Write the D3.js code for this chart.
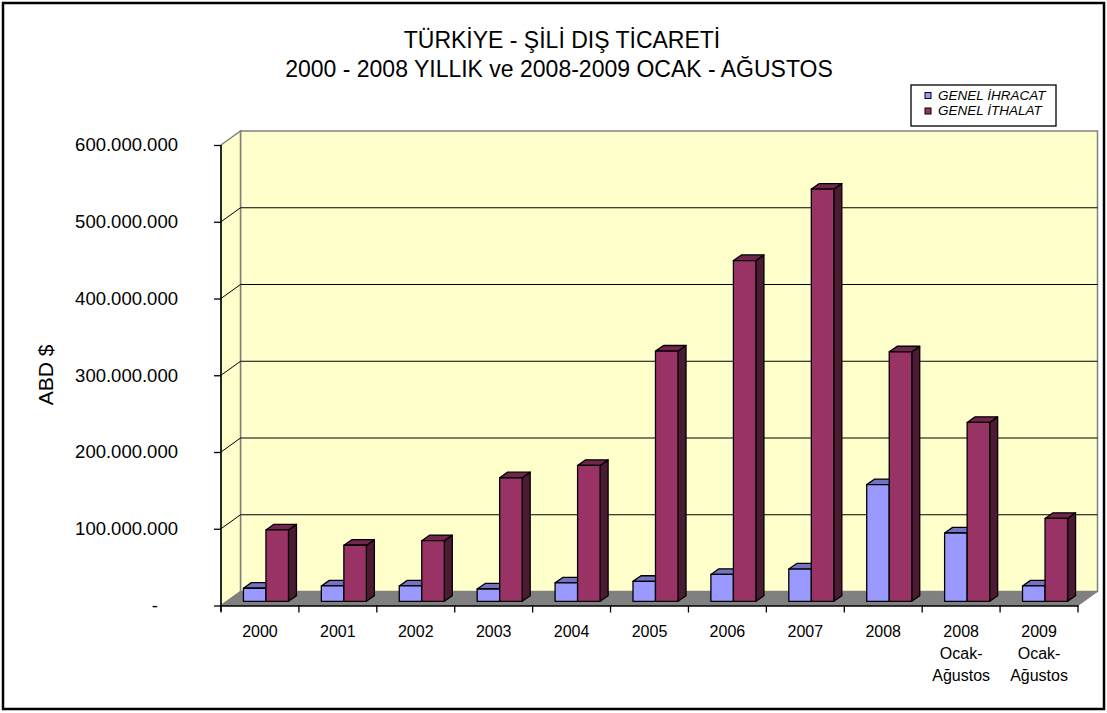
<!DOCTYPE html>
<html>
<head>
<meta charset="utf-8">
<script src="https://cdn.jsdelivr.net/npm/d3@7"></script>
<style>
  body { margin: 0; background: #fff; }
  svg { display: block; font-family: "Liberation Sans", Arial, sans-serif; }
</style>
</head>
<body>
<div id="chart"></div>
<script>
// data (USD)
const categories = ['2000', '2001', '2002', '2003', '2004', '2005', '2006', '2007', '2008', '2008\nOcak-\nAğustos', '2009\nOcak-\nAğustos'];
const ihracat = [17e6, 20e6, 20e6, 16e6, 24e6, 26e6, 35e6, 42e6, 152e6, 89e6, 20e6];
const ithalat = [93e6, 73e6, 79e6, 161e6, 177e6, 326e6, 444e6, 537e6, 325e6, 233e6, 108e6];
const yTicks = [0, 100e6, 200e6, 300e6, 400e6, 500e6, 600e6];
const seriesNames = ['GENEL İHRACAT', 'GENEL İTHALAT'];

const width = 1107;
const height = 713;
const plot = { left: 221, right: 1078, bottom: 605.5, top: 145 };
const depth = { dx: 19.5, dy: -14 };   // back wall offset
const barDepth = { dx: 8, dy: -5.6 };
const barShift = { dx: 6, dy: -4.2 };

const colors = {
  ihracat: { front: '#9999ff', top: '#7373bf', side: '#4d4d80' },
  ithalat: { front: '#993366', top: '#73264d', side: '#4d1a33' }
};

const svg = d3.select('#chart')
  .append('svg')
  .attr('width', width)
  .attr('height', height);

// outer frame
svg.append('rect')
  .attr('x', 3).attr('y', 3)
  .attr('width', 1101).attr('height', 706)
  .attr('fill', '#fff')
  .attr('stroke', '#000')
  .attr('stroke-width', 2.5);

const x0 = d3.scaleBand()
  .domain(categories)
  .range([plot.left, plot.right]);

const x1 = d3.scaleBand()
  .domain(['ihracat', 'ithalat'])
  .range([0, x0.bandwidth()])
  .paddingOuter(0.73);

const y = d3.scaleLinear()
  .domain([0, 600e6])
  .range([plot.bottom, plot.top]);

const pts = (arr) => arr.map((p) => p.join(',')).join(' ');

// back wall
svg.append('rect')
  .attr('x', plot.left + depth.dx)
  .attr('y', plot.top + depth.dy)
  .attr('width', plot.right - plot.left)
  .attr('height', plot.bottom - plot.top)
  .attr('fill', '#ffffcc')
  .attr('stroke', '#808080')
  .attr('stroke-width', 1.5);

// left wall
svg.append('polygon')
  .attr('points', pts([
    [plot.left, plot.top],
    [plot.left + depth.dx, plot.top + depth.dy],
    [plot.left + depth.dx, plot.bottom + depth.dy],
    [plot.left, plot.bottom]
  ]))
  .attr('fill', '#ffffcc')
  .attr('stroke', '#808080')
  .attr('stroke-width', 1.5);

// gridlines (back wall + left wall)
const grid = svg.append('g').attr('class', 'grid');
yTicks.filter((t) => t > 0 && t < 600e6).forEach((t) => {
  grid.append('line')
    .attr('x1', plot.left + depth.dx).attr('x2', plot.right + depth.dx)
    .attr('y1', y(t) + depth.dy).attr('y2', y(t) + depth.dy)
    .attr('stroke', '#000').attr('stroke-width', 1);
  grid.append('line')
    .attr('x1', plot.left).attr('x2', plot.left + depth.dx)
    .attr('y1', y(t)).attr('y2', y(t) + depth.dy)
    .attr('stroke', '#000').attr('stroke-width', 1);
});

// floor
svg.append('polygon')
  .attr('points', pts([
    [plot.left, plot.bottom],
    [plot.right, plot.bottom],
    [plot.right + depth.dx, plot.bottom + depth.dy],
    [plot.left + depth.dx, plot.bottom + depth.dy]
  ]))
  .attr('fill', '#808080')
  .attr('stroke', '#808080')
  .attr('stroke-width', 1);

// bars
const bars = svg.append('g').attr('class', 'bars');
categories.forEach((cat, i) => {
  [['ihracat', ihracat[i]], ['ithalat', ithalat[i]]].forEach(([key, v]) => {
    const c = colors[key];
    const bx = x0(cat) + x1(key) + barShift.dx;
    const bw = x1.bandwidth();
    const yb = y(0) + barShift.dy;
    const yt = y(v) + barShift.dy;
    const g = bars.append('g')
      .attr('stroke', '#000')
      .attr('stroke-width', 1.3)
      .attr('stroke-linejoin', 'round');
    g.append('polygon')
      .attr('points', pts([
        [bx + bw, yt], [bx + bw + barDepth.dx, yt + barDepth.dy],
        [bx + bw + barDepth.dx, yb + barDepth.dy], [bx + bw, yb]
      ]))
      .attr('fill', c.side);
    g.append('polygon')
      .attr('points', pts([
        [bx, yt], [bx + bw, yt],
        [bx + bw + barDepth.dx, yt + barDepth.dy], [bx + barDepth.dx, yt + barDepth.dy]
      ]))
      .attr('fill', c.top);
    g.append('rect')
      .attr('x', bx).attr('y', yt)
      .attr('width', bw).attr('height', yb - yt)
      .attr('fill', c.front);
  });
});

// y axis
const yAxis = d3.axisLeft(y)
  .tickValues(yTicks)
  .tickSize(7)
  .tickPadding(36)
  .tickFormat((d) => d === 0 ? '-' : d3.format(',')(d).replace(/,/g, '.'));

const yg = svg.append('g')
  .attr('transform', 'translate(' + plot.left + ',0)')
  .call(yAxis);
yg.select('.domain')
  .attr('d', 'M0,' + plot.top + 'V' + (plot.bottom + 6))
  .attr('stroke', '#000').attr('stroke-width', 1.5);
yg.selectAll('.tick line').attr('stroke', '#000').attr('stroke-width', 1.3);
yg.selectAll('.tick text')
  .attr('x', -43)
  .attr('font-size', 18.5)
  .attr('font-family', '"Liberation Sans", Arial, sans-serif')
  .attr('fill', '#000');
yg.selectAll('.tick')
  .filter((d) => d === 0)
  .select('text')
  .attr('x', -63);

// x axis
const xAxis = d3.axisBottom(x0)
  .tickSize(0)
  .tickFormat('');
const xg = svg.append('g')
  .attr('transform', 'translate(0,' + plot.bottom + ')')
  .call(xAxis);
xg.select('.domain').attr('stroke', '#000').attr('stroke-width', 1.5);
const xTickPos = categories.map((c) => x0(c)).concat([plot.right]);
xg.selectAll('.sep')
  .data(xTickPos)
  .enter()
  .append('line')
  .attr('x1', (d) => d).attr('x2', (d) => d)
  .attr('y1', 0).attr('y2', 7)
  .attr('stroke', '#000').attr('stroke-width', 1.3);

const xLabels = svg.append('g')
  .attr('font-size', 16)
  .attr('text-anchor', 'middle');
categories.forEach((cat) => {
  const t = xLabels.append('text')
    .attr('x', x0(cat) + x0.bandwidth() / 2)
    .attr('y', 637);
  cat.split('\n').forEach((line, k) => {
    t.append('tspan')
      .attr('x', x0(cat) + x0.bandwidth() / 2)
      .attr('dy', k === 0 ? 0 : 22)
      .text(line);
  });
});

// axis title
svg.append('text')
  .attr('transform', 'translate(53,375) rotate(-90)')
  .attr('text-anchor', 'middle')
  .attr('font-size', 21)
  .text('ABD $');

// title
const title = svg.append('text')
  .attr('text-anchor', 'middle')
  .attr('font-size', 23);
title.append('tspan').attr('x', 562).attr('y', 48).text('TÜRKİYE - ŞİLİ DIŞ TİCARETİ');
title.append('tspan').attr('x', 559).attr('y', 77).text('2000 - 2008 YILLIK ve 2008-2009 OCAK - AĞUSTOS');

// legend
const legend = svg.append('g').attr('transform', 'translate(911,85)');
legend.append('rect')
  .attr('width', 145).attr('height', 41)
  .attr('fill', '#fff')
  .attr('stroke', '#000')
  .attr('stroke-width', 1.3);
seriesNames.forEach((name, k) => {
  const key = k === 0 ? 'ihracat' : 'ithalat';
  legend.append('rect')
    .attr('x', 14).attr('y', 7.5 + k * 15.5)
    .attr('width', 6).attr('height', 6)
    .attr('fill', colors[key].front)
    .attr('stroke', '#000')
    .attr('stroke-width', 1);
  legend.append('text')
    .attr('x', 27).attr('y', 14.5 + k * 15.5)
    .attr('font-size', 13.5)
    .attr('font-style', 'italic')
    .text(name);
});
</script>
</body>
</html>
